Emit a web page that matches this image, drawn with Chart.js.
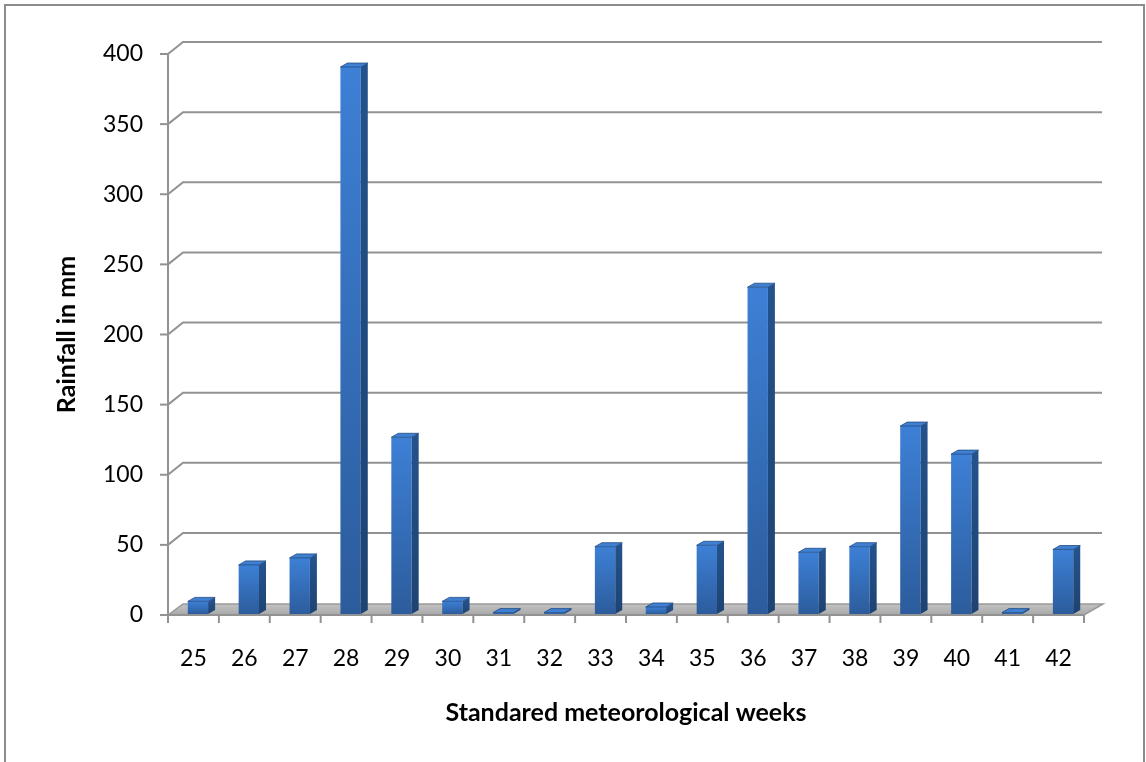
<!DOCTYPE html>
<html>
<head>
<meta charset="utf-8">
<script src="https://cdn.jsdelivr.net/npm/chart.js@4.4.1/dist/chart.umd.min.js"></script>
<style>
html,body{margin:0;padding:0;background:#ffffff;}
#wrap{width:1146px;height:762px;position:relative;}
canvas{display:block;}
</style>
</head>
<body>
<div id="wrap"><canvas id="c" width="1146" height="762"></canvas></div>
<script>
// ---- data ----
const weeks = ['25','26','27','28','29','30','31','32','33','34','35','36','37','38','39','40','41','42'];
const rainfall = [9, 35, 40, 390, 126, 9, 1, 1, 48, 5, 49, 233, 44, 48, 134, 114, 1, 46];
const yTickValues = [0, 50, 100, 150, 200, 250, 300, 350, 400];
const yAxisTitle = 'Rainfall in mm';
const xAxisTitle = 'Standared meteorological weeks';

// ---- styling ----
const FONT = 'Lato, "Open Sans", "DejaVu Sans", sans-serif';
const GRID = '#929292';

const threeD = {
  id: 'threeD',
  beforeDraw(chart) {
    const ctx = chart.ctx;
    ctx.save();
    ctx.fillStyle = '#ffffff';
    ctx.fillRect(0, 0, chart.width, chart.height);
    ctx.strokeStyle = '#8c8c8c';
    ctx.lineWidth = 2;
    ctx.beginPath();
    ctx.moveTo(5, chart.height + 5);
    ctx.lineTo(5, 5);
    ctx.lineTo(1144, 5);
    ctx.lineTo(1144, chart.height + 5);
    ctx.stroke();
    ctx.restore();
  },
  beforeDatasetsDraw(chart) {
    const {ctx, chartArea, scales} = chart;
    const {left, right} = chartArea;
    const y = scales.y;
    const y0 = y.getPixelForValue(0);
    ctx.save();
    // back wall gridlines
    ctx.strokeStyle = GRID;
    ctx.lineWidth = 2;
    yTickValues.forEach(v => {
      if (v === 0) return;
      const py = y.getPixelForValue(v);
      ctx.beginPath();
      ctx.moveTo(left, py);
      ctx.lineTo(left + 15, py - 12);
      ctx.lineTo(right + 18, py - 12);
      ctx.stroke();
    });
    // floor
    const g = ctx.createLinearGradient(0, y0 - 11, 0, y0);
    g.addColorStop(0, '#c2c2c2');
    g.addColorStop(1, '#a9a9a9');
    ctx.fillStyle = g;
    ctx.beginPath();
    ctx.moveTo(left, y0);
    ctx.lineTo(left + 15, y0 - 11);
    ctx.lineTo(right + 19, y0 - 11);
    ctx.lineTo(right, y0);
    ctx.closePath();
    ctx.fill();
    ctx.lineWidth = 1.5;
    ctx.strokeStyle = '#9a9a9a';
    ctx.stroke();
    ctx.restore();
    // shift bars to sit in the middle of the floor depth
    ctx.save();
    ctx.translate(4.5, -1);
  },
  afterDatasetsDraw(chart) {
    const {ctx, chartArea, scales} = chart;
    const {left, right} = chartArea;
    const meta = chart.getDatasetMeta(0);
    const dx = 7, dy = 4;
    meta.data.forEach(bar => {
      const p = bar.getProps(['x', 'y', 'base', 'width'], true);
      const l = p.x - p.width / 2, r = p.x + p.width / 2;
      // side face
      const sg = ctx.createLinearGradient(0, p.y, 0, p.base);
      sg.addColorStop(0, '#24528c');
      sg.addColorStop(1, '#1d4372');
      ctx.fillStyle = sg;
      ctx.beginPath();
      ctx.moveTo(r, p.y);
      ctx.lineTo(r + dx, p.y - dy);
      ctx.lineTo(r + dx, p.base - dy);
      ctx.lineTo(r, p.base);
      ctx.closePath();
      ctx.fill();
      // top face
      ctx.fillStyle = '#3f80d2';
      ctx.beginPath();
      ctx.moveTo(l, p.y);
      ctx.lineTo(l + dx, p.y - dy);
      ctx.lineTo(r + dx, p.y - dy);
      ctx.lineTo(r, p.y);
      ctx.closePath();
      ctx.fill();
      ctx.strokeStyle = 'rgba(35,75,130,0.8)';
      ctx.lineWidth = 1;
      ctx.stroke();
    });
    ctx.restore();

    // front axes
    const y = scales.y;
    const y0 = y.getPixelForValue(0);
    ctx.save();
    ctx.strokeStyle = GRID;
    ctx.lineWidth = 2;
    ctx.beginPath();
    ctx.moveTo(left, y.getPixelForValue(400));
    ctx.lineTo(left, y0);
    ctx.lineTo(right, y0);
    ctx.stroke();
    yTickValues.forEach(v => {
      const py = y.getPixelForValue(v);
      ctx.beginPath();
      ctx.moveTo(left - 8, py);
      ctx.lineTo(left, py);
      ctx.stroke();
    });
    const n = weeks.length;
    for (let i = 0; i <= n; i++) {
      const px = left + (right - left) * i / n;
      ctx.beginPath();
      ctx.moveTo(px, y0);
      ctx.lineTo(px, y0 + 8);
      ctx.stroke();
    }
    ctx.restore();
  }
};

function barGradient(context) {
  const chart = context.chart;
  const ys = chart.scales && chart.scales.y;
  if (!ys || !chart.chartArea || context.raw === undefined) return '#3470bd';
  const yt = ys.getPixelForValue(context.raw);
  const yb = ys.getPixelForValue(0);
  const g = chart.ctx.createLinearGradient(0, yt, 0, Math.max(yb, yt + 1));
  g.addColorStop(0, '#3d80d6');
  g.addColorStop(1, '#2c5c9c');
  return g;
}

new Chart(document.getElementById('c'), {
  type: 'bar',
  data: {
    labels: weeks,
    datasets: [{
      label: yAxisTitle,
      data: rainfall,
      backgroundColor: barGradient,
      borderWidth: 0,
      categoryPercentage: 1.0,
      barPercentage: 0.40
    }]
  },
  options: {
    responsive: false,
    animation: false,
    devicePixelRatio: 1,
    layout: { padding: { top: 54, right: 62, bottom: 0, left: 0 } },
    plugins: {
      legend: { display: false },
      tooltip: { enabled: false }
    },
    scales: {
      x: {
        grid: { display: false, drawTicks: false },
        border: { display: false },
        ticks: { color: '#000', font: { family: FONT, size: 23 }, padding: 30, maxRotation: 0 },
        title: { display: true, text: xAxisTitle, color: '#000',
                 font: { family: FONT, size: 25, weight: 'bold' }, padding: { top: 0, bottom: 34 } },
        afterFit(scale) { scale.height = 147; }
      },
      y: {
        min: 0, max: 400,
        grid: { display: false, drawTicks: false },
        border: { display: false },
        afterBuildTicks(scale) { scale.ticks = yTickValues.map(v => ({ value: v })); },
        ticks: { color: '#000', font: { family: FONT, size: 23 }, padding: 25 },
        title: { display: true, text: yAxisTitle, color: '#000',
                 font: { family: FONT, size: 25, weight: 'bold' }, padding: { top: 52, bottom: 0 } },
        afterFit(scale) { scale.width = 168; }
      }
    }
  },
  plugins: [threeD]
});
</script>
</body>
</html>
